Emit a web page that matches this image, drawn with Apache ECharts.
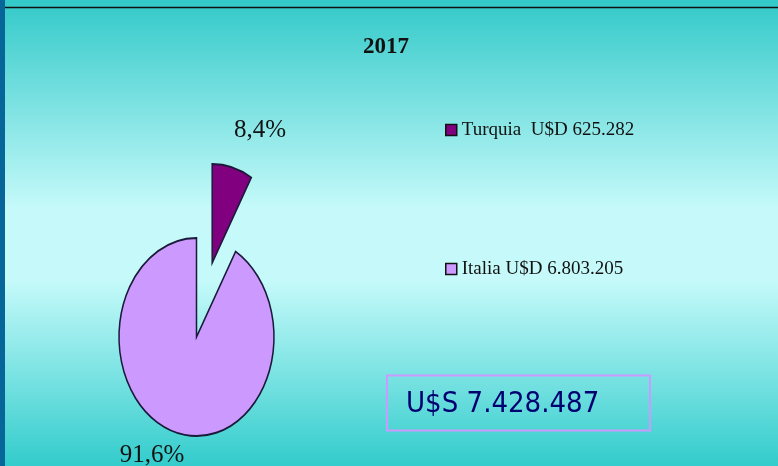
<!DOCTYPE html>
<html>
<head>
<meta charset="utf-8">
<script src="https://cdn.jsdelivr.net/npm/echarts@6/dist/echarts.min.js"></script>
<style>
html,body{margin:0;padding:0;background:#33cccc;}
#chart{width:778px;height:466px;}
</style>
</head>
<body>
<div id="chart"></div>
<script>
// ---- data ----
const titleText = '2017';
const categories = ['Turquia', 'Italia'];
const values = [625282, 6803205];
const legendLabels = ['Turquia  U$D 625.282', 'Italia U$D 6.803.205'];
const totalPrefix = 'U$S ';

// ---- helpers ----
const colors = ['#800080', '#cc99ff'];
const total = values.reduce((a, b) => a + b, 0);
function fmtThousands(n) { return String(n).replace(/\B(?=(\d{3})+(?!\d))/g, '.'); }
function fmtPct(v) { return (v / total * 100).toFixed(1).replace('.', ',') + '%'; }

const CX = 196.5, CY = 337, R = 77.5, SY = 99 / 77.5;
const explode = [60, 0];
const labelPos = [[260, 130], [152, 455]];
const serif = "'Liberation Serif', 'DejaVu Serif', 'Times New Roman', serif";

function makeRender(i) {
  return function (params, api) {
    let start = -Math.PI / 2;
    for (let j = 0; j < i; j++) start += values[j] / total * Math.PI * 2;
    const v = api.value(0);
    const end = start + v / total * Math.PI * 2;
    const mid = (start + end) / 2;
    const off = explode[i];
    return {
      type: 'group',
      children: [
        {
          type: 'group',
          x: CX, y: CY, scaleY: SY,
          children: [{
            type: 'sector',
            shape: { cx: off * Math.cos(mid), cy: off * Math.sin(mid), r0: 0, r: R, startAngle: start, endAngle: end, clockwise: true },
            style: { fill: api.visual('color'), stroke: '#1a1a3a', lineWidth: 1.5, strokeNoScale: true }
          }]
        },
        {
          type: 'text',
          x: labelPos[i][0], y: labelPos[i][1],
          style: { text: fmtPct(v), fill: '#111', font: '25px ' + serif, align: 'center', verticalAlign: 'middle' }
        }
      ]
    };
  };
}

const chart = echarts.init(document.getElementById('chart'), null, { renderer: 'canvas' });

const series = categories.map((name, i) => ({
  type: 'custom',
  name: name,
  coordinateSystem: 'none',
  itemStyle: { color: colors[i] },
  renderItem: makeRender(i),
  data: [[values[i]]],
  animation: false
}));

const legendTops = [115, 254];
const legends = categories.map((name, i) => ({
  data: [name],
  left: 440,
  top: legendTops[i],
  icon: 'rect',
  itemWidth: 11,
  itemHeight: 11,
  itemStyle: { borderColor: '#111', borderWidth: 1.5 },
  selectedMode: false,
  formatter: () => legendLabels[i],
  textStyle: { color: '#111', fontSize: 19, fontFamily: serif, lineHeight: 20 }
}));

chart.setOption({
  animation: false,
  title: {
    text: titleText,
    left: 358,
    top: 31,
    textStyle: { fontFamily: serif, fontWeight: 'bold', fontSize: 23, color: '#111' }
  },
  legend: legends,
  graphic: [
    {
      type: 'rect', z: -10, silent: true,
      shape: { x: 0, y: 0, width: 778, height: 466 },
      style: {
        fill: new echarts.graphic.LinearGradient(0, 0, 0, 1, [
          { offset: 0, color: '#33c9c9' },
          { offset: 0.45, color: '#c6fafa' },
          { offset: 0.6, color: '#c6fafa' },
          { offset: 1, color: '#33cccc' }
        ])
      }
    },
    { type: 'rect', z: -5, silent: true, shape: { x: 0, y: 0, width: 5, height: 466 }, style: { fill: '#066699' } },
    { type: 'line', z: -5, silent: true, shape: { x1: 5, y1: 7.5, x2: 778, y2: 7.5 }, style: { stroke: '#111', lineWidth: 1.5 } },
    { type: 'rect', silent: true, shape: { x: 387, y: 375.5, width: 263, height: 55 }, style: { fill: 'none', stroke: '#cc99ff', lineWidth: 2 } },
    {
      type: 'text', silent: true, x: 406, y: 404,
      style: { text: totalPrefix + fmtThousands(total), fill: '#000070', font: "29px 'DejaVu Sans Condensed', 'Noto Sans', sans-serif", verticalAlign: 'middle' }
    }
  ],
  series: series
});
</script>
</body>
</html>
